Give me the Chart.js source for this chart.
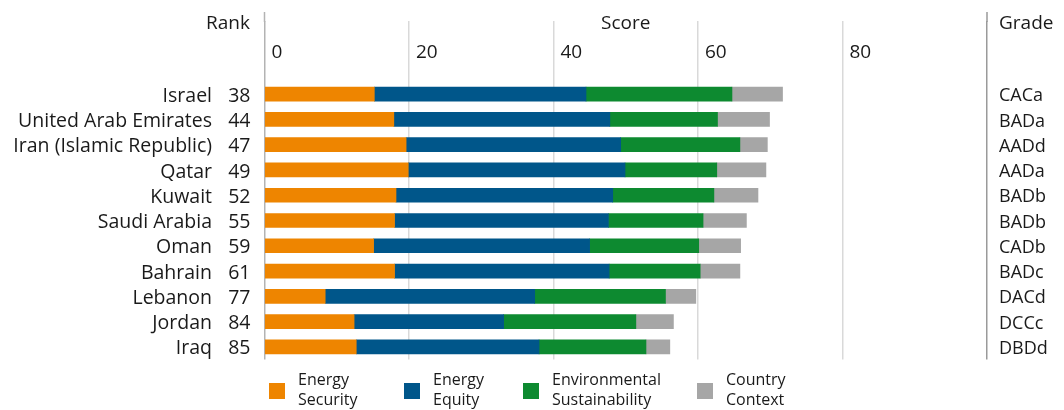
<!DOCTYPE html>
<html>
<head>
<meta charset="utf-8">
<script src="https://cdn.jsdelivr.net/npm/chart.js@4/dist/chart.umd.min.js"></script>
<style>
  html, body { margin: 0; padding: 0; background: #fff; }
  #wrap { position: relative; width: 1064px; height: 410px; overflow: hidden; font-family: 'Open Sans', sans-serif; color: #1a1a1a; }
  #c { position: absolute; left: 0; top: 0; }
  .hdr { position: absolute; font-size: 19px; line-height: 24px; top: 10px; }
  .leg { position: absolute; top: 369px; font-size: 16px; line-height: 20px; }
  .sw { position: absolute; width: 16px; height: 16px; top: 383px; }
</style>
</head>
<body>
<div id="wrap">
  <canvas id="c" width="1064" height="410"></canvas>
  <div class="hdr" id="hRank" style="right:814px;">Rank</div>
  <div class="hdr" id="hGrade" style="left:999px;">Grade</div>
  <div id="legend"></div>
</div>
<script>
const countries = ['Israel', 'United Arab Emirates', 'Iran (Islamic Republic)', 'Qatar', 'Kuwait', 'Saudi Arabia', 'Oman', 'Bahrain', 'Lebanon', 'Jordan', 'Iraq'];
const ranks = [38, 44, 47, 49, 52, 55, 59, 61, 77, 84, 85];
const grades = ['CACa', 'BADa', 'AADd', 'AADa', 'BADb', 'BADb', 'CADb', 'BADc', 'DACd', 'DCCc', 'DBDd'];
const energySecurity = [15.2, 17.9, 19.6, 19.9, 18.2, 18.0, 15.1, 18.0, 8.4, 12.4, 12.7];
const energyEquity = [29.3, 29.9, 29.7, 30.0, 30.0, 29.6, 29.9, 29.7, 29.0, 20.7, 25.3];
const envSustainability = [20.2, 14.9, 16.5, 12.7, 14.0, 13.1, 15.1, 12.6, 18.1, 18.3, 14.8];
const countryContext = [7.0, 7.2, 3.8, 6.8, 6.1, 6.0, 5.8, 5.5, 4.2, 5.2, 3.3];
const scoreTicks = [0, 20, 40, 60, 80, 100];
const scoreTickLabels = ['0', '20', '40', '60', '80', ''];
const seriesNames = [['Energy', 'Security'], ['Energy', 'Equity'], ['Environmental', 'Sustainability'], ['Country', 'Context']];
const seriesColors = ['#EE8500', '#00568A', '#0D8A30', '#A6A6A6'];

const seriesData = [energySecurity, energyEquity, envSustainability, countryContext];

// HTML legend
const legendX = [269, 404, 523, 697];
const legendEl = document.getElementById('legend');
seriesNames.forEach((n, i) => {
  const sw = document.createElement('div');
  sw.className = 'sw';
  sw.style.left = legendX[i] + 'px';
  sw.style.background = seriesColors[i];
  legendEl.appendChild(sw);
  const t = document.createElement('div');
  t.className = 'leg';
  t.style.left = (legendX[i] + 29) + 'px';
  t.innerHTML = n.join('<br>');
  legendEl.appendChild(t);
});

Chart.defaults.font.family = "'Open Sans', sans-serif";
Chart.defaults.color = '#1a1a1a';

const extendLines = {
  id: 'extendLines',
  afterDraw(chart) {
    const x = chart.scales.x;
    const ctx = chart.ctx;
    ctx.save();
    [[0, '#b3b3b3', 1.5], [100, '#9a9a9a', 1.5]].forEach(([v, col, w]) => {
      const px = x.getPixelForValue(v);
      ctx.strokeStyle = col;
      ctx.lineWidth = w;
      ctx.beginPath();
      ctx.moveTo(px, 12);
      ctx.lineTo(px, 22);
      ctx.stroke();
    });
    ctx.restore();
  }
};

const yTickBase = { autoSkip: false, sampleSize: 100, labelOffset: 2 };

new Chart(document.getElementById('c'), {
  type: 'bar',
  data: {
    labels: countries,
    datasets: seriesData.map((d, i) => ({
      label: seriesNames[i].join(' '),
      data: d,
      backgroundColor: seriesColors[i],
      borderWidth: 0,
      barThickness: 14,
      yAxisID: 'y'
    }))
  },
  options: {
    indexAxis: 'y',
    responsive: false,
    animation: false,
    devicePixelRatio: 1,
    layout: { padding: { top: 0, bottom: 50.5, left: 0, right: 0 } },
    plugins: { legend: { display: false }, tooltip: { enabled: false } },
    scales: {
      x: {
        position: 'top',
        stacked: true,
        min: 0,
        max: 100,
        afterBuildTicks: (s) => { s.ticks = scoreTicks.map(v => ({ value: v })); },
        afterFit: (s) => { s.height = 81.5; },
        border: { display: false },
        grid: {
          drawTicks: true,
          tickLength: 60.5,
          color: (c) => c.tick && c.tick.value === 0 ? '#b3b3b3' : (c.tick && c.tick.value === 100 ? '#9a9a9a' : '#d9d9d9'),
          tickColor: (c) => c.tick && c.tick.value === 0 ? '#b3b3b3' : (c.tick && c.tick.value === 100 ? '#9a9a9a' : '#d9d9d9'),
          lineWidth: 1.5,
          tickWidth: 1.5
        },
        ticks: {
          align: 'start',
          labelOffset: 7,
          padding: -43,
          maxRotation: 0,
          autoSkip: false,
          font: { size: 19 },
          callback: (v, i) => scoreTickLabels[i]
        },
        title: {
          display: true,
          text: 'Score',
          font: { size: 19 },
          padding: { top: 12, bottom: 0 }
        }
      },
      y: {
        position: 'left',
        stacked: true,
        offset: true,
        afterFit: (s) => { s.width = 52.5; },
        border: { display: false },
        grid: { display: false, drawTicks: false },
        ticks: Object.assign({}, yTickBase, {
          padding: 14,
          font: { size: 19.5 },
          callback: (v, i) => String(ranks[i])
        })
      },
      yCountry: {
        type: 'category',
        position: 'left',
        offset: true,
        afterFit: (s) => { s.width = 212; },
        border: { display: false },
        grid: { display: false, drawTicks: false },
        ticks: Object.assign({}, yTickBase, {
          padding: 0,
          font: { size: 19.5 },
          callback: (v, i) => countries[i]
        })
      },
      yGrade: {
        type: 'category',
        position: 'right',
        offset: true,
        afterFit: (s) => { s.width = 77; },
        border: { display: false },
        grid: { display: false, drawTicks: false },
        ticks: Object.assign({}, yTickBase, {
          padding: 12,
          font: { size: 18 },
          callback: (v, i) => grades[i]
        })
      }
    }
  },
  plugins: [extendLines]
});
</script>
</body>
</html>
